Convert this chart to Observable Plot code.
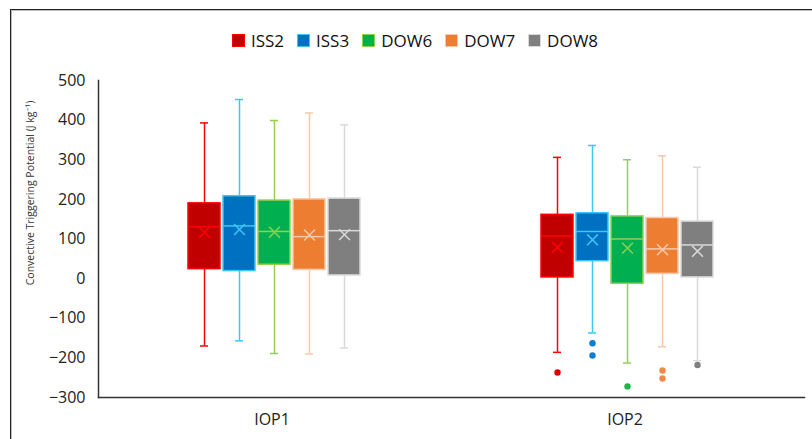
<!DOCTYPE html>
<html>
<head>
<meta charset="utf-8">
<script src="https://cdn.jsdelivr.net/npm/d3@7"></script>
<script src="https://cdn.jsdelivr.net/npm/@observablehq/plot@0.6"></script>
<style>
  html, body { margin: 0; padding: 0; background: #fff; }
  #wrap { position: relative; width: 812px; height: 439px; overflow: hidden; font-family: "Open Sans", sans-serif; }
  #border { position: absolute; left: 10px; top: 9px; width: 820px; height: 450px;
            border-top: 1.5px solid #222; border-left: 1.5px solid #222;
            box-shadow: inset 1px 1px 0 #bbb; pointer-events: none; }
  #legend { height: 60px; display: flex; justify-content: center; align-items: flex-end;
            padding-left: 31px; box-sizing: border-box; padding-bottom: 8px; }
  .item { display: flex; align-items: center; margin-right: 13px; font-size: 17px; color: #111; }
  .sw { width: 13px; height: 13px; margin-right: 6px; box-sizing: border-box; border: 1.5px solid; }
  svg { display: block; }
</style>
</head>
<body>
<div id="wrap">
  <div id="border"></div>
  <div id="legend"></div>
  <div id="chart"></div>
</div>
<script>
const iops = ["IOP1", "IOP2"];
const stations = ["ISS2", "ISS3", "DOW6", "DOW7", "DOW8"];
const fillColors = ["#C00000", "#0070C0", "#00B050", "#ED7D31", "#7F7F7F"];
const lineColors = ["#FF0000", "#3CC8F5", "#92D050", "#F8C8A8", "#D9D9D9"];
const outlierColors = ["#E00000", "#0A7DD4", "#1DB446", "#F08A4B", "#7F7F7F"];
const yTicks = [-300, -200, -100, 0, 100, 200, 300, 400, 500];
const yLabel = "Convective Triggering Potential (J kg\u207B\u00B9)";

// IOP1, station order as above
const whiskerHigh1 = [393, 452, 399, 418, 388];
const q3_1 = [190, 208, 197, 200, 202];
const median1 = [131, 133, 119, 106, 121];
const mean1 = [117, 124, 117, 110, 111];
const q1_1 = [24, 19, 35, 22, 8];
const whiskerLow1 = [-170, -157, -189, -190, -175];
const outliers1 = [[], [], [], [], []];

// IOP2
const whiskerHigh2 = [306, 336, 300, 310, 281];
const q3_2 = [161, 165, 157, 153, 144];
const median2 = [108, 119, 100, 75, 85];
const mean2 = [79, 98, 77, 73, 69];
const q1_2 = [3, 44, -13, 12, 3];
const whiskerLow2 = [-186, -137, -213, -172, -207];
const outliers2 = [[-237], [-163, -194], [-272], [-232, -252], [-218]];

const series = [
  [whiskerHigh1, q3_1, median1, mean1, q1_1, whiskerLow1, outliers1],
  [whiskerHigh2, q3_2, median2, mean2, q1_2, whiskerLow2, outliers2]
];

const rows = [];
const outRows = [];
iops.forEach((iop, k) => {
  const [hi, q3, med, mn, q1, lo, outs] = series[k];
  stations.forEach((s, i) => {
    rows.push({iop, station: s, si: i, high: hi[i], q3: q3[i], median: med[i], mean: mn[i], q1: q1[i], low: lo[i]});
    outs[i].forEach(v => outRows.push({iop, station: s, si: i, value: v}));
  });
});

// legend
const legend = document.getElementById("legend");
stations.forEach((s, i) => {
  const it = document.createElement("div");
  it.className = "item";
  it.innerHTML = `<span class="sw" style="background:${fillColors[i]};border-color:${lineColors[i]}"></span><span>${s}</span>`;
  legend.appendChild(it);
});

const marks = [];
stations.forEach((s, i) => {
  const d = rows.filter(r => r.si === i);
  const o = outRows.filter(r => r.si === i);
  marks.push(
    Plot.ruleX(d, {fx: "iop", x: "station", y1: "low", y2: "high", stroke: lineColors[i], strokeWidth: 1.5}),
    Plot.tickY(d, {fx: "iop", x: "station", y: "high", stroke: lineColors[i], strokeWidth: 1.5, insetLeft: 12, insetRight: 12}),
    Plot.tickY(d, {fx: "iop", x: "station", y: "low", stroke: lineColors[i], strokeWidth: 1.5, insetLeft: 12, insetRight: 12}),
    Plot.barY(d, {fx: "iop", x: "station", y1: "q1", y2: "q3", fill: fillColors[i], stroke: lineColors[i], strokeWidth: 1.5}),
    Plot.tickY(d, {fx: "iop", x: "station", y: "median", stroke: lineColors[i], strokeWidth: 1.5}),
    Plot.dot(d, {fx: "iop", x: "station", y: "mean", symbol: "times", r: 5, stroke: lineColors[i], strokeWidth: 1.5}),
    Plot.dot(o, {fx: "iop", x: "station", y: "value", r: 3.2, fill: outlierColors[i], stroke: "none"})
  );
});

const chart = Plot.plot({
  width: 812,
  height: 379,
  marginTop: 20,
  marginBottom: 42,
  marginLeft: 97,
  marginRight: 8,
  style: {fontFamily: "Open Sans", fontSize: "16px", color: "#222", background: "transparent"},
  fx: {domain: iops, padding: 0, label: null, axis: null},
  x: {domain: stations, paddingInner: 0.08, paddingOuter: 2.45, axis: null},
  y: {domain: [-300, 500], ticks: yTicks, label: null, axis: null},
  marks: [
    Plot.axisY({ticks: yTicks, tickSize: 0, tickPadding: 13, label: null, fontSize: 16}),
    Plot.axisFx({anchor: "bottom", tickSize: 0, tickPadding: 16, label: null, fontSize: 16, dx: -3}),
    ...marks,
    Plot.frame({anchor: "left", fx: ["IOP1"], stroke: "#333", strokeWidth: 1.5}),
    Plot.frame({anchor: "bottom", facet: "super", stroke: "#333", strokeWidth: 1.5}),
    Plot.text([yLabel], {text: d => d, fx: ["IOP1"], frameAnchor: "left", textAnchor: "middle", rotate: -90, dx: -68, dy: -46, fontSize: 10.5, fill: "#333"})
  ]
});
document.getElementById("chart").appendChild(chart);
</script>
</body>
</html>
